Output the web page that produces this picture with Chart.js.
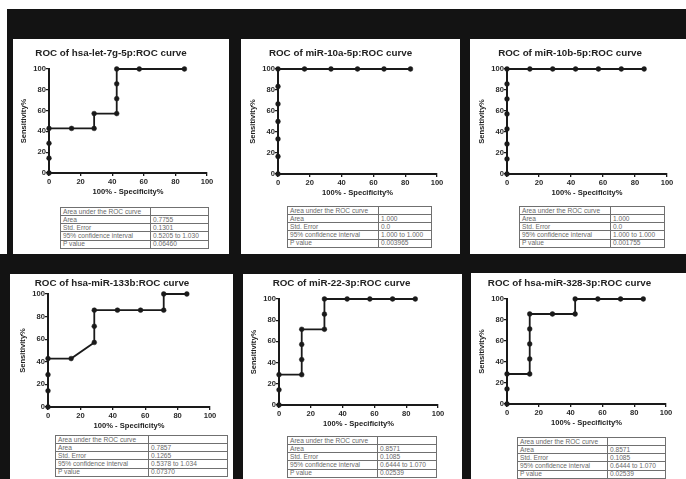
<!DOCTYPE html>
<html>
<head>
<meta charset="utf-8">
<script src="https://cdn.jsdelivr.net/npm/chart.js@4.4.1/dist/chart.umd.min.js"></script>
<style>
  html, body { margin: 0; padding: 0; }
  body { width: 686px; height: 479px; background: #131313; position: relative; overflow: hidden;
         font-family: "Liberation Sans", Arial, sans-serif; }
  .strip { position: absolute; background: #fff; }
  .panel { position: absolute; background: #fff; }
  canvas { position: absolute; }
  table.roc { position: absolute; border-collapse: collapse; border: 1.5px solid #3a3a3a;
              font-size: 6.6px; color: #6a6a6a; table-layout: fixed; }
  table.roc td { border: 1px solid #707070; padding: 0 0 0 2px; line-height: 6px;
                 white-space: nowrap; overflow: hidden; }
</style>
</head>
<body>
<script>
// chart titles
const titles = [
  "ROC of hsa-let-7g-5p:ROC curve",
  "ROC of miR-10a-5p:ROC curve",
  "ROC of miR-10b-5p:ROC curve",
  "ROC of hsa-miR-133b:ROC curve",
  "ROC of miR-22-3p:ROC curve",
  "ROC of hsa-miR-328-3p:ROC curve"
];

// 100% - Specificity% (x) and Sensitivity% (y) for each curve
const spec1 = [0, 0, 0, 0, 14.29, 28.57, 28.57, 42.86, 42.86, 42.86, 42.86, 57.14, 85.71];
const sens1 = [0, 14.29, 28.57, 42.86, 42.86, 42.86, 57.14, 57.14, 71.43, 85.71, 100, 100, 100];

const spec2 = [0, 0, 0, 0, 0, 0, 0, 16.67, 33.33, 50, 66.67, 83.33];
const sens2 = [0, 16.67, 33.33, 50, 66.67, 83.33, 100, 100, 100, 100, 100, 100];

const spec3 = [0, 0, 0, 0, 0, 0, 0, 0, 14.29, 28.57, 42.86, 57.14, 71.43, 85.71];
const sens3 = [0, 14.29, 28.57, 42.86, 57.14, 71.43, 85.71, 100, 100, 100, 100, 100, 100, 100];

const spec4 = [0, 0, 0, 0, 14.29, 28.57, 28.57, 28.57, 42.86, 57.14, 71.43, 71.43, 85.71];
const sens4 = [0, 14.29, 28.57, 42.86, 42.86, 57.14, 71.43, 85.71, 85.71, 85.71, 85.71, 100, 100];

const spec5 = [0, 0, 0, 14.29, 14.29, 14.29, 14.29, 28.57, 28.57, 28.57, 42.86, 57.14, 71.43, 85.71];
const sens5 = [0, 14.29, 28.57, 28.57, 42.86, 57.14, 71.43, 71.43, 85.71, 100, 100, 100, 100, 100];

const spec6 = [0, 0, 0, 14.29, 14.29, 14.29, 14.29, 14.29, 28.57, 42.86, 42.86, 57.14, 71.43, 85.71];
const sens6 = [0, 14.29, 28.57, 28.57, 42.86, 57.14, 71.43, 85.71, 85.71, 85.71, 100, 100, 100, 100];

const specs = [spec1, spec2, spec3, spec4, spec5, spec6];
const senss = [sens1, sens2, sens3, sens4, sens5, sens6];

// table values
const areas = ["0.7755", "1.000", "1.000", "0.7857", "0.8571", "0.8571"];
const stdErrors = ["0.1301", "0.0", "0.0", "0.1265", "0.1085", "0.1085"];
const confIntervals = ["0.5205 to 1.030", "1.000 to 1.000", "1.000 to 1.000",
                       "0.5378 to 1.034", "0.6444 to 1.070", "0.6444 to 1.070"];
const pValues = ["0.06460", "0.003965", "0.001755", "0.07370", "0.02539", "0.02539"];

const axisTicks = [0, 20, 40, 60, 80, 100];

// where things sit on the page: panel box, axis box [x0, x100, y100, y0], title line, table
const layout = [
  { panel: [13, 39, 216, 215], axis: [49, 207, 69, 173], titleY: 53, table: [60, 207, 87, 55] },
  { panel: [241, 39, 219, 215], axis: [278, 437, 69, 174], titleY: 53, table: [287, 206, 88, 50] },
  { panel: [470, 39, 216, 215], axis: [507, 667, 69, 174], titleY: 53, table: [519, 206, 88, 51] },
  { panel: [10, 274, 223, 205], axis: [48, 210, 294, 407], titleY: 283, table: [55, 435, 90, 76] },
  { panel: [243, 274, 219, 205], axis: [279, 438, 299, 405], titleY: 283, table: [287, 436, 87, 56] },
  { panel: [471, 273, 215, 206], axis: [507, 666, 299, 404], titleY: 283, table: [517, 437, 87, 55] }
];

const FONT = "'Liberation Sans', Arial, sans-serif";
const INK = "#1a1a1a";

function box(cls, x, y, w, h) {
  const d = document.createElement("div");
  d.className = cls;
  d.style.left = x + "px";
  d.style.top = y + "px";
  d.style.width = w + "px";
  d.style.height = h + "px";
  document.body.appendChild(d);
  return d;
}

// white margins of the scan
box("strip", 0, 0, 686, 9);
box("strip", 0, 0, 7, 254);

function makeTable(i, t) {
  const rows = [
    ["Area under the ROC curve", ""],
    ["Area", areas[i]],
    ["Std. Error", stdErrors[i]],
    ["95% confidence interval", confIntervals[i]],
    ["P value", pValues[i]]
  ];
  const tbl = document.createElement("table");
  tbl.className = "roc";
  tbl.style.left = t[0] + "px";
  tbl.style.top = t[1] + "px";
  tbl.style.width = (t[2] + t[3]) + "px";
  tbl.style.height = "41.7px";
  rows.forEach(r => {
    const tr = document.createElement("tr");
    r.forEach((txt, k) => {
      const td = document.createElement("td");
      td.textContent = txt;
      td.style.width = (k === 0 ? t[2] : t[3]) + "px";
      tr.appendChild(td);
    });
    tbl.appendChild(tr);
  });
  document.body.appendChild(tbl);
}

function makeChart(i, L) {
  const [x0, x1, yTop, yBot] = L.axis;
  const side = 34;
  const xAxisH = 26;
  const cv = document.createElement("canvas");
  const left = x0 - side;
  const top = L.titleY - 10;
  cv.width = x1 - x0 + side * 2;
  cv.height = yBot + xAxisH - top;
  cv.style.left = left + "px";
  cv.style.top = top + "px";
  document.body.appendChild(cv);

  const points = specs[i].map((x, k) => ({ x: x, y: senss[i][k] }));

  const tickFont = { family: FONT, size: 7.6, weight: "bold" };
  const gridOpts = { drawOnChartArea: false, drawTicks: true, tickLength: 3, color: INK, lineWidth: 1.3 };

  return new Chart(cv, {
    type: "scatter",
    data: {
      datasets: [{
        data: points,
        showLine: true,
        tension: 0,
        borderColor: INK,
        backgroundColor: INK,
        borderWidth: 1.8,
        pointRadius: 2.4,
        pointHoverRadius: 2.4,
        pointBorderWidth: 0.5,
        clip: false
      }]
    },
    options: {
      responsive: false,
      animation: false,
      events: [],
      layout: { padding: { left: 0, right: side, top: 5.1, bottom: 0 } },
      plugins: {
        legend: { display: false },
        tooltip: { enabled: false },
        title: {
          display: true,
          text: titles[i],
          color: "#222",
          font: { family: FONT, size: 9.8, weight: "bold", lineHeight: 1 },
          padding: { top: 0, bottom: yTop - L.titleY - 4.9 }
        }
      },
      scales: {
        x: {
          type: "linear",
          min: 0,
          max: 100,
          afterBuildTicks: s => { s.ticks = axisTicks.map(v => ({ value: v })); },
          afterFit: s => { s.height = xAxisH; },
          ticks: { color: "#2a2a2a", font: tickFont, padding: 1, maxRotation: 0 },
          grid: gridOpts,
          border: { display: true, color: INK, width: 2 },
          title: {
            display: true,
            text: "100% - Specificity%",
            color: "#222",
            font: { family: FONT, size: 7.6, weight: "bold", lineHeight: 1.2 },
            padding: { top: 0, bottom: 2.5 }
          }
        },
        y: {
          type: "linear",
          min: 0,
          max: 100,
          afterBuildTicks: s => { s.ticks = axisTicks.map(v => ({ value: v })); },
          afterFit: s => { s.width = side; },
          ticks: { color: "#2a2a2a", font: tickFont, padding: 0 },
          grid: gridOpts,
          border: { display: true, color: INK, width: 2 },
          title: {
            display: true,
            text: "Sensitivity%",
            color: "#222",
            font: { family: FONT, size: 7.6, weight: "bold", lineHeight: 1.2 },
            padding: { top: 4.5, bottom: 0 }
          }
        }
      }
    }
  });
}

layout.forEach((L, i) => {
  const p = L.panel;
  box("panel", p[0], p[1], p[2], p[3]);
  makeChart(i, L);
  makeTable(i, L.table);
});
</script>
</body>
</html>
